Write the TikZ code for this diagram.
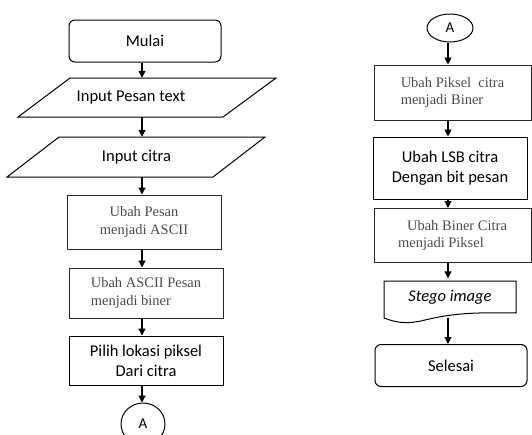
\documentclass[tikz,border=0pt]{standalone}
\usepackage{fontspec}
\setmainfont{Carlito}
\newfontfamily\serifA{Liberation Serif}
\usetikzlibrary{arrows.meta,shapes.geometric}
\definecolor{textgray}{HTML}{4A4A4A}
\begin{document}
\begin{tikzpicture}[x=1pt,y=-1pt,
  box/.style={draw, line width=1pt, inner sep=0pt},
  sansbox/.style={box, font=\fontsize{16.5}{20}\selectfont, align=center},
  serbox/.style={box, draw=black!85, font=\serifA\fontsize{14.5}{17.5}\selectfont, text=textgray},
  term/.style={sansbox, rounded corners=6pt},
  plain/.style={inner sep=0pt, font=\fontsize{16.5}{20}\selectfont},
  shapeline/.style={line width=1pt, line join=miter},
  arr/.style={line width=1.2pt, -{Triangle[length=7pt,width=7pt]}},
  conn/.style={draw, ellipse, line width=1pt, inner sep=0pt, font=\fontsize{15}{18}\selectfont},
]
\useasboundingbox (0,0) rectangle (532,434);
\coordinate (Lx) at (142,0);
\coordinate (Rx) at (448,0);

% ---- left column ----
\node[term, minimum width=152pt, minimum height=42pt] (mulai) at (145,41) {Mulai};

\draw[shapeline] (70,78) -- (276,78) -- (223,117) -- (18,117) -- cycle;
\node[plain, minimum height=39pt] (in1) at (131,97.5) {Input Pesan text};

\draw[shapeline] (59,137) -- (265,137) -- (213,177) -- (7,177) -- cycle;
\node[plain, minimum height=40pt] (in2) at (136.5,157) {Input citra};

\node[serbox, align=center, minimum width=154pt, minimum height=54pt] (asc1) at (144,222) {Ubah Pesan\\menjadi ASCII};
\node[serbox, align=left, minimum width=154pt, minimum height=50pt] (asc2) at (146,293) {Ubah ASCII Pesan\\menjadi biner};
\node[sansbox, minimum width=154pt, minimum height=49pt] (pilih) at (146,360.5) {Pilih lokasi piksel\\Dari citra};
\node[conn, minimum width=44pt, minimum height=42pt] (a1) at (143,424) {A};

\draw[arr] (mulai.south -| Lx) -- (in1.north -| Lx);
\draw[arr] (in1.south -| Lx) -- (in2.north -| Lx);
\draw[arr] (in2.south -| Lx) -- (asc1.north -| Lx);
\draw[arr] (asc1.south -| Lx) -- (asc2.north -| Lx);
\draw[arr] (asc2.south -| Lx) -- (pilih.north -| Lx);
\draw[arr] (pilih.south -| Lx) -- (a1.north -| Lx);

% ---- right column ----
\node[conn, minimum width=46pt, minimum height=28pt] (a2) at (450,28) {A};
\node[serbox, align=left, minimum width=157pt, minimum height=55pt] (pix) at (452.5,92.5) {Ubah Piksel\ \ citra\\menjadi Biner};
\node[sansbox, minimum width=154pt, minimum height=62pt] (lsb) at (450,168) {Ubah LSB citra\\Dengan bit pesan};
\node[serbox, align=left, minimum width=157pt, minimum height=54pt] (biner) at (452.5,235.5) {\hspace{9pt}Ubah Biner Citra\\menjadi Piksel};

\draw[shapeline] (384,318) -- (384,281) -- (516,281) -- (516,313)
  .. controls (470,312) and (450,314) .. (425,320)
  .. controls (405,325) and (395,322) .. (384,318);
\node[plain, minimum width=132pt, minimum height=37pt, font=\itshape\fontsize{16.5}{20}\selectfont] (stego) at (450,297) {Stego image};
\node[term, minimum width=152pt, minimum height=42pt] (selesai) at (451,365.5) {Selesai};

\draw[arr] (a2.south -| Rx) -- (pix.north -| Rx);
\draw[arr] (pix.south -| Rx) -- (lsb.north -| Rx);
\draw[arr] (lsb.south -| Rx) -- (biner.north -| Rx);
\draw[arr] (biner.south -| Rx) -- (stego.north -| Rx);
\draw[arr] ([yshift=-2pt]stego.south -| Rx) -- (selesai.north -| Rx);
\end{tikzpicture}
\end{document}
